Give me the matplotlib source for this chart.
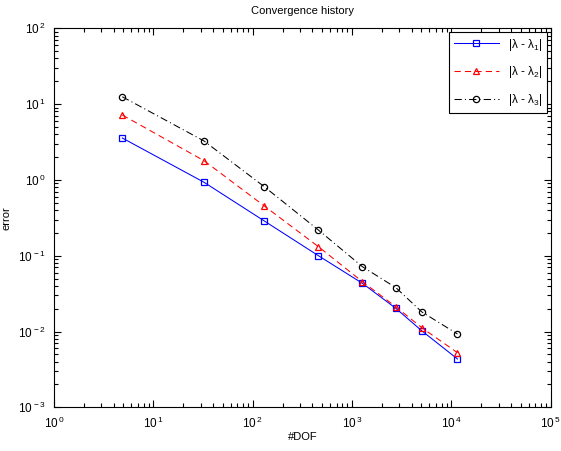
import matplotlib.pyplot as plt
import numpy as np

# degrees of freedom per refinement step
dof = [4.87, 32.4, 131, 459, 1273, 2762, 5045, 11520]

# eigenvalue errors
err1 = [3.57, 0.93, 0.287, 0.100, 0.0432, 0.0202, 0.0102, 0.00434]
err2 = [7.18, 1.79, 0.453, 0.1315, 0.0454, 0.0212, 0.0112, 0.00525]
err3 = [12.5, 3.26, 0.813, 0.218, 0.0716, 0.0379, 0.0181, 0.00927]

labels = [r'|$\lambda$ - $\lambda_1$|', r'|$\lambda$ - $\lambda_2$|', r'|$\lambda$ - $\lambda_3$|']

plt.rcParams['font.family'] = ['Liberation Sans', 'DejaVu Sans']
plt.rcParams['mathtext.fontset'] = 'custom'
plt.rcParams['mathtext.rm'] = 'Liberation Sans'
plt.rcParams['mathtext.it'] = 'Liberation Sans'

fig = plt.figure(figsize=(5.61, 4.51), dpi=100)
ax = fig.add_axes([54 / 561, 1 - 407.3 / 451, (550.7 - 54) / 561, (407.3 - 28.3) / 451])

ax.loglog(dof, err1, 'b-s', mfc='none', ms=4.5, lw=0.75, mew=0.9, label=labels[0])
ax.loglog(dof, err2, 'r^', ls=(0, (6, 4)), mfc='none', ms=4.5, lw=0.75, mew=0.9, label=labels[1])
ax.loglog(dof, err3, 'ko', ls=(0, (7, 3, 1, 3)), mfc='none', ms=4.5, lw=0.75, mew=0.9, label=labels[2])

ax.set_xlim(1, 1e5)
ax.set_ylim(1e-3, 1e2)
ax.set_xticks([10.0 ** k for k in range(6)])
ax.set_xticklabels([r'$10^{\,%d}$' % k for k in range(6)])
ax.set_yticks([10.0 ** k for k in range(-3, 3)])
ax.set_yticklabels([r'$10^{\,%d}$' % k for k in range(-3, 3)])

ax.tick_params(which='both', direction='in', top=True, right=True, labelsize=8.5, width=0.8)
ax.tick_params(which='major', length=5, pad=6)
ax.tick_params(which='minor', length=3)
for s in ax.spines.values():
    s.set_linewidth(0.8)

ax.set_title('Convergence history', fontsize=8, pad=10)
ax.set_xlabel('#DOF', fontsize=8, labelpad=1)
ax.set_ylabel('error', fontsize=8, labelpad=4)

leg = ax.legend(loc='upper right', fontsize=8.5, fancybox=False, edgecolor='black',
                framealpha=1, handlelength=3.8, handletextpad=0.8, borderaxespad=0.3,
                labelspacing=1.0)
leg.get_frame().set_linewidth(0.8)

plt.savefig('out.png', dpi=100)
